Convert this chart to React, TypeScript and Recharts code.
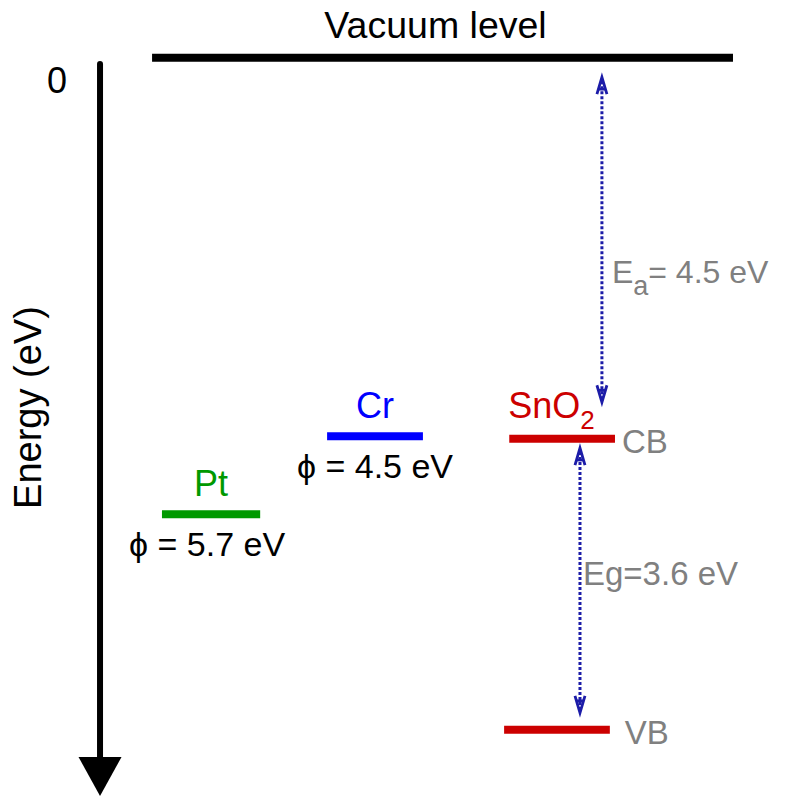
import React from 'react';
import { ComposedChart, XAxis, YAxis, ReferenceLine } from 'recharts';

// Energy levels (diagram position in eV below vacuum; drawing is not to scale)
const levelNames = ['Vacuum level', 'Pt', 'Cr', 'CB', 'VB'];
const levelEnergy = [0, -5.38, -4.46, -4.49, -7.92];
const levelStart = [1.92, 2.045, 4.13, 6.43, 6.365];
const levelEnd = [9.255, 3.285, 5.34, 7.765, 7.7];

// Labels
const metalNames = ['Pt', 'Cr'];
const workFunctions = [5.7, 4.5];
const semiconductorName = 'SnO';
const semiconductorSub = '2';

// Gap arrows: electron affinity and band gap
const gapSymbols = ['E', 'Eg'];
const gapSubs = ['a', ''];
const gapValues = [4.5, 3.6];
const arrowX = [7.6, 7.323];
const arrowTop = [-0.23, -4.6];
const arrowBottom = [-4.06, -7.72];

// Energy axis
const axisX = 1.263;
const axisTop = -0.04;
const axisBottom = -8.7;
const axisTickLabel = '0';
const axisTitle = 'Energy (eV)';

const FONT = 'Liberation Sans, Arial, Helvetica, sans-serif';
const levelColors = ['#000000', '#009900', '#0000ff', '#cc0000', '#cc0000'];
const ARROW_BLUE = '#1c1ca8';
const GRAY = '#808080';

const chartData = levelNames.map((n, i) => ({ x: levelStart[i], y: levelEnergy[i] }));

function LevelShape(idx: number) {
  return (p: any) => {
    const { x1, y1, x2 } = p;
    const cx = (x1 + x2) / 2;
    const name = levelNames[idx];
    const color = levelColors[idx];
    const bar = <line x1={x1} y1={y1} x2={x2} y2={y1} stroke={color} strokeWidth={8} />;
    if (idx === 0) {
      return (
        <g>
          {bar}
          <text x={cx - 7} y={y1 - 20} textAnchor="middle" fontFamily={FONT} fontSize={37.5} fill="#000">
            {name}
          </text>
        </g>
      );
    }
    if (name === 'Pt' || name === 'Cr') {
      const m = metalNames.indexOf(name);
      return (
        <g>
          {bar}
          <text x={cx} y={y1 - 18} textAnchor="middle" fontFamily={FONT} fontSize={36} fill={color}>
            {name}
          </text>
          <text x={cx - (m === 0 ? 4 : 0)} y={y1 + 42} textAnchor="middle" fontFamily={FONT} fontSize={34} fill="#000">
            {'ϕ = ' + workFunctions[m].toFixed(1) + ' eV'}
          </text>
        </g>
      );
    }
    if (name === 'CB') {
      return (
        <g>
          {bar}
          <text x={x1 - 1} y={y1 - 21} fontFamily={FONT} fontSize={36} fill={color}>
            <tspan>{semiconductorName}</tspan>
            <tspan dy={11} fontSize={26}>{semiconductorSub}</tspan>
          </text>
          <text x={x2 + 7} y={y1 + 14} fontFamily={FONT} fontSize={33} fill={GRAY}>
            {name}
          </text>
        </g>
      );
    }
    return (
      <g>
        {bar}
        <text x={x2 + 15} y={y1 + 14} fontFamily={FONT} fontSize={33} fill={GRAY}>
          {name}
        </text>
      </g>
    );
  };
}

function ArrowHead({ x, y, dir }: { x: number; y: number; dir: number }) {
  const h = 17 * dir;
  return (
    <g stroke={ARROW_BLUE} strokeWidth={2.8} fill="none" strokeLinejoin="miter">
      <path d={`M ${x - 5} ${y + h} L ${x} ${y} L ${x + 5} ${y + h}`} />
      <path d={`M ${x - 3.5} ${y + h * 0.7} L ${x + 3.5} ${y + h * 0.7}`} />
    </g>
  );
}

function GapShape(idx: number) {
  return (p: any) => {
    const { x1, y1, y2 } = p;
    const top = Math.min(y1, y2);
    const bot = Math.max(y1, y2);
    const mid = (top + bot) / 2;
    const label = gapSymbols[idx];
    return (
      <g>
        <line x1={x1} y1={top + 4} x2={x1} y2={bot - 4} stroke={ARROW_BLUE} strokeWidth={3} strokeDasharray="3 2" />
        <ArrowHead x={x1} y={top} dir={1} />
        <ArrowHead x={x1} y={bot} dir={-1} />
        {gapSubs[idx] ? (
          <text x={x1 + 10} y={mid + 43} fontFamily={FONT} fontSize={32} fill={GRAY}>
            <tspan>{label}</tspan>
            <tspan dy={12} fontSize={27}>{gapSubs[idx]}</tspan>
            <tspan dy={-12}>{'= ' + gapValues[idx].toFixed(1) + ' eV'}</tspan>
          </text>
        ) : (
          <text x={x1 + 3} y={mid + 5} fontFamily={FONT} fontSize={33} fill={GRAY}>
            {label + '=' + gapValues[idx].toFixed(1) + ' eV'}
          </text>
        )}
      </g>
    );
  };
}

const AxisShape = (p: any) => {
  const { x1, y1, y2 } = p;
  const top = Math.min(y1, y2);
  const bot = Math.max(y1, y2);
  const headH = 39;
  const headW = 21.5;
  const ty = (top + bot) / 2 - 21;
  return (
    <g>
      <line x1={x1} y1={top + 3} x2={x1} y2={bot - headH + 2} stroke="#000" strokeWidth={6} strokeLinecap="round" />
      <polygon points={`${x1 - headW},${bot - headH} ${x1 + headW},${bot - headH} ${x1},${bot}`} fill="#000" />
      <text x={x1 - 43} y={top + 32} textAnchor="middle" fontFamily={FONT} fontSize={36} fill="#000">
        {axisTickLabel}
      </text>
      <text
        x={x1 - 59}
        y={ty}
        textAnchor="middle"
        fontFamily={FONT}
        fontSize={38}
        fill="#000"
        transform={`rotate(-90 ${x1 - 59} ${ty})`}
      >
        {axisTitle}
      </text>
    </g>
  );
};

export default function App() {
  return (
    <div style={{ position: 'absolute', left: 0, top: 0, background: '#fff' }}>
      <ComposedChart width={792} height={796} data={chartData} margin={{ top: 0, right: 0, bottom: 0, left: 0 }}>
        <XAxis dataKey="x" type="number" domain={[0, 10]} hide allowDataOverflow />
        <YAxis dataKey="y" type="number" domain={[-8.7, 0.68]} hide allowDataOverflow />
        <ReferenceLine
          segment={[{ x: axisX, y: axisTop }, { x: axisX, y: axisBottom }]}
          ifOverflow="visible"
          shape={AxisShape}
        />
        {levelNames.map((n, i) => (
          <ReferenceLine
            key={n}
            segment={[{ x: levelStart[i], y: levelEnergy[i] }, { x: levelEnd[i], y: levelEnergy[i] }]}
            ifOverflow="visible"
            shape={LevelShape(i)}
          />
        ))}
        {gapSymbols.map((g, i) => (
          <ReferenceLine
            key={g}
            segment={[{ x: arrowX[i], y: arrowTop[i] }, { x: arrowX[i], y: arrowBottom[i] }]}
            ifOverflow="visible"
            shape={GapShape(i)}
          />
        ))}
      </ComposedChart>
    </div>
  );
}
